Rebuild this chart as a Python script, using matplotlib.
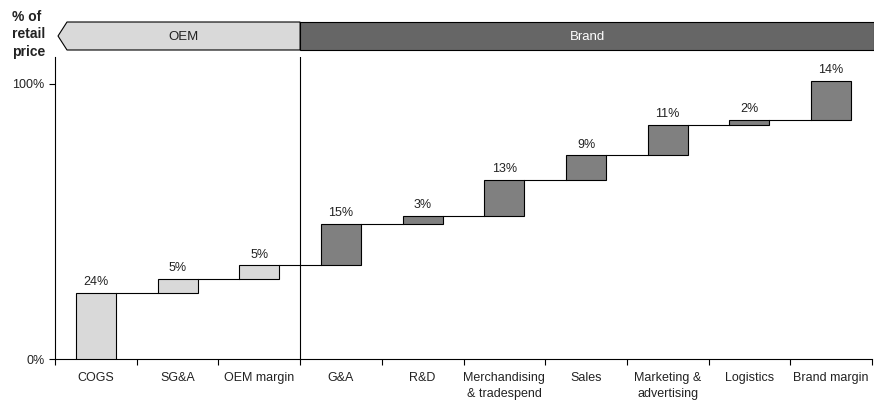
import matplotlib.pyplot as plt
from matplotlib.patches import Polygon, Rectangle
import numpy as np

plt.rcParams['font.family'] = ['Liberation Sans', 'DejaVu Sans']

categories = ["COGS", "SG&A", "OEM margin", "G&A", "R&D",
              "Merchandising\n& tradespend", "Sales", "Marketing &\nadvertising",
              "Logistics", "Brand margin"]
values = [24, 5, 5, 15, 3, 13, 9, 11, 2, 14]
groups = ["OEM", "OEM", "OEM", "Brand", "Brand", "Brand", "Brand", "Brand", "Brand", "Brand"]

light = "#d9d9d9"
dark = "#808080"

vals = np.array(values)
bottoms = np.concatenate([[0], np.cumsum(vals)[:-1]])
tops = bottoms + vals
x = np.arange(len(categories))
colors = [light if g == "OEM" else dark for g in groups]

fig = plt.figure(figsize=(8.74, 4.03), dpi=100)
ax = fig.add_axes([55 / 874, 1 - 359 / 403, 817 / 874, 302 / 403])

w = 0.49
ax.bar(x, vals, bottom=bottoms, width=w, color=colors, edgecolor="black", linewidth=0.8, zorder=3)

# connectors between consecutive bars
for i in range(len(x) - 1):
    ax.plot([x[i] + w / 2, x[i + 1] - w / 2], [tops[i], tops[i]], color="black", lw=0.8, zorder=2)

for xi, t, v in zip(x, tops, vals):
    ax.annotate(f"{v}%", (xi, t), xytext=(0, 3.5), textcoords="offset points",
                ha="center", va="bottom", fontsize=9, color="#222222")

ax.set_xlim(-0.5, len(x) - 0.5)
ax.set_ylim(0, 109.8)
ax.set_yticks([0, 100])
ax.set_yticklabels(["0%", "100%"], fontsize=9, color="#222222")
ax.set_xticks(np.arange(-0.5, len(x) + 0.5, 1))
ax.set_xticklabels([])
ax.set_xticks(x, minor=True)
ax.set_xticklabels(categories, minor=True, fontsize=9, va="top", linespacing=1.45,
                   color="#222222")
ax.tick_params(axis="x", which="minor", length=0, pad=9.5)
ax.tick_params(axis="x", which="major", length=4, width=0.8)
ax.tick_params(axis="y", length=4, width=0.8)
for s in ["top", "right"]:
    ax.spines[s].set_visible(False)
for s in ["left", "bottom"]:
    ax.spines[s].set_linewidth(0.8)

n_oem = groups.count("OEM")
ax.axvline(n_oem - 0.5, color="black", lw=0.8, zorder=1)

# header band across the top, in pixel coordinates
hdr = fig.add_axes([0, 0, 1, 1])
hdr.set_xlim(0, 874)
hdr.set_ylim(403, 0)
hdr.axis("off")
hdr.patch.set_alpha(0)
x_div = 55 + n_oem * 817 / 10
hdr.add_patch(Polygon([[67, 22], [x_div, 22], [x_div, 50], [67, 50], [58, 36]],
                      closed=True, facecolor=light, edgecolor="black", lw=0.8))
hdr.add_patch(Rectangle((x_div, 22), 874 - x_div, 28, facecolor="#666666",
                        edgecolor="black", lw=0.8))
hdr.text((67 + x_div) / 2, 36.5, "OEM", ha="center", va="center", fontsize=9.5, color="#222222")
hdr.text((x_div + 874) / 2, 36.5, "Brand", ha="center", va="center", fontsize=9.5, color="white")
hdr.text(12, 10, "% of\nretail\nprice", ha="left", va="top", fontsize=10,
         fontweight="bold", linespacing=1.3, color="#222222")

fig.savefig("out.png", dpi=100)
